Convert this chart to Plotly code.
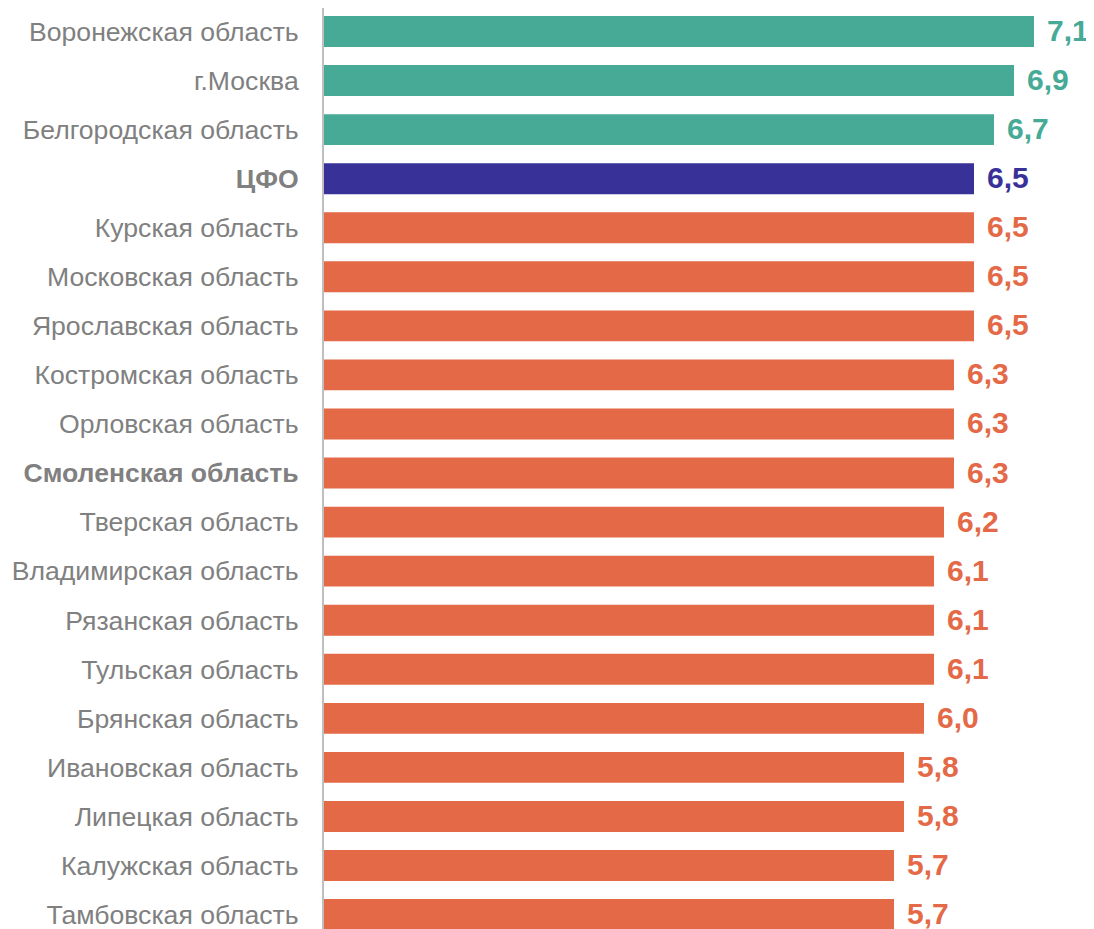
import plotly.graph_objects as go

regions = [
    "Воронежская область", "г.Москва", "Белгородская область", "ЦФО",
    "Курская область", "Московская область", "Ярославская область",
    "Костромская область", "Орловская область", "Смоленская область",
    "Тверская область", "Владимирская область", "Рязанская область",
    "Тульская область", "Брянская область", "Ивановская область",
    "Липецкая область", "Калужская область", "Тамбовская область",
]
values = [7.1, 6.9, 6.7, 6.5, 6.5, 6.5, 6.5, 6.3, 6.3, 6.3,
          6.2, 6.1, 6.1, 6.1, 6.0, 5.8, 5.8, 5.7, 5.7]
groups = ["top", "top", "top", "cfo"] + ["other"] * 15
bold_labels = ["ЦФО", "Смоленская область"]

palette = {"top": "#46AA97", "cfo": "#383298", "other": "#E36947"}
colors = [palette[g] for g in groups]
ypos = list(range(len(regions)))
ticktext = [f"<b>{r}</b>" if r in bold_labels else r for r in regions]

fig = go.Figure(go.Bar(
    x=values,
    y=ypos,
    orientation="h",
    width=0.63,
    marker=dict(color=colors, line=dict(width=0)),
    hoverinfo="skip",
))

# value labels to the right of each bar
for yv, v, c in zip(ypos, values, colors):
    fig.add_annotation(
        x=v, y=yv, text=f"<b>{v:.1f}</b>".replace(".", ","),
        xanchor="left", yanchor="middle", xshift=11, yshift=1, showarrow=False,
        font=dict(size=30, color=c, family="Liberation Sans, Arial, sans-serif"),
    )

# page body has an 8px margin, so the figure is a bit smaller than the window
fig.update_layout(
    width=1086, height=921,
    margin=dict(l=316, r=0, t=0, b=0),
    paper_bgcolor="white", plot_bgcolor="white",
    showlegend=False,
    font=dict(family="Liberation Sans, Arial, sans-serif"),
    xaxis=dict(range=[0, 7.7], visible=False, fixedrange=True),
    yaxis=dict(
        range=[18.294, -0.479],
        tickmode="array", tickvals=ypos, ticktext=ticktext,
        tickfont=dict(size=26.6, color="#808080"),
        ticklabelstandoff=18,
        ticklabeloverflow="allow",
        showgrid=False, zeroline=False,
        showline=True, linecolor="#BFBFBF", linewidth=2,
        ticks="",
        automargin=False,
    ),
)

fig.write_html("out.html")
